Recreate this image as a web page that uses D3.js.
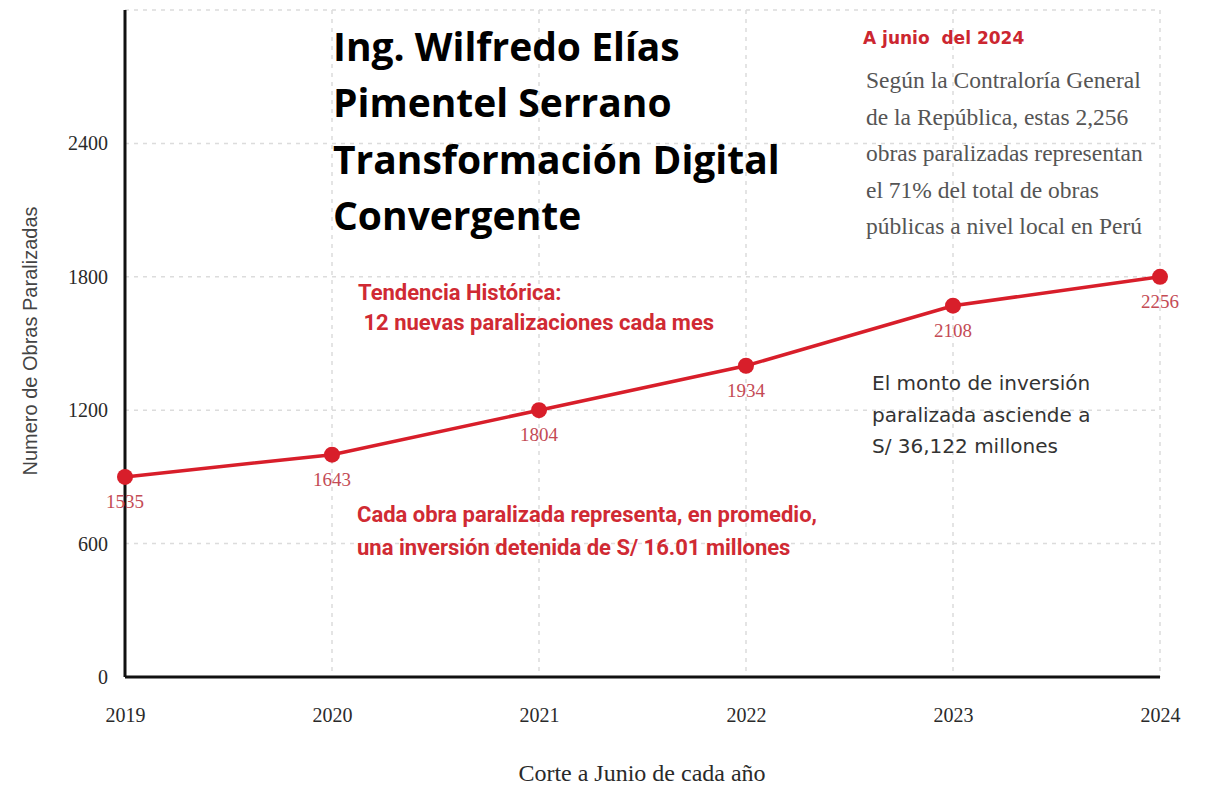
<!DOCTYPE html>
<html>
<head>
<meta charset="utf-8">
<script src="https://cdn.jsdelivr.net/npm/d3@7"></script>
<style>
  body { margin: 0; background: #fff; }
  svg { display: block; }
</style>
</head>
<body>
<div id="chart"></div>
<script>
// data
const years = ["2019", "2020", "2021", "2022", "2023", "2024"];
const plotted = [900, 1000, 1200, 1400, 1670, 1800];
const pointLabels = ["1535", "1643", "1804", "1934", "2108", "2256"];
const yTicks = [0, 600, 1200, 1800, 2400];
const yGrid = [600, 1200, 1800, 2400, 3000];

const titleLines = ["Ing. Wilfredo Elías", "Pimentel Serrano", "Transformación Digital", "Convergente"];
const noteHead = "A junio  del 2024";
const noteLines = ["Según la Contraloría General", "de la República, estas 2,256", "obras paralizadas representan", "el 71% del total de obras", "públicas a nivel local en Perú"];
const trendLines = ["Tendencia Histórica:", " 12 nuevas paralizaciones cada mes"];
const avgLines = ["Cada obra paralizada representa, en promedio,", "una inversión detenida de S/ 16.01 millones"];
const amountLines = ["El monto de inversión", "paralizada asciende a", "S/ 36,122 millones"];

const fullWidth = 1206, fullHeight = 785;
const margin = { top: 10, right: 46, bottom: 108, left: 125 };
const width = fullWidth - margin.left - margin.right;
const height = fullHeight - margin.top - margin.bottom;

const red = "#d81e2a";
const serif = "'Liberation Serif', 'DejaVu Serif', serif";
const sans = "'DejaVu Sans', sans-serif";
const roboto = "Roboto, 'Liberation Sans', sans-serif";

const svg = d3.select("#chart").append("svg")
    .attr("width", fullWidth)
    .attr("height", fullHeight)
  .append("g")
    .attr("transform", `translate(${margin.left},${margin.top})`);

const x = d3.scalePoint().domain(years).range([0, width]);
const y = d3.scaleLinear().domain([0, 3000]).range([height, 0]);

// grid
svg.append("g").selectAll("line").data(yGrid).join("line")
  .attr("x1", 0).attr("x2", width)
  .attr("y1", d => y(d)).attr("y2", d => y(d))
  .attr("stroke", "#dcdcdc").attr("stroke-width", 1.5)
  .attr("stroke-dasharray", "4,5");

svg.append("g").selectAll("line").data(years.slice(1)).join("line")
  .attr("x1", d => x(d)).attr("x2", d => x(d))
  .attr("y1", 0).attr("y2", height)
  .attr("stroke", "#dcdcdc").attr("stroke-width", 1.5)
  .attr("stroke-dasharray", "4,5");

// axes
const yAxis = svg.append("g")
  .call(d3.axisLeft(y).tickValues(yTicks).tickFormat(d3.format("d")).tickSize(0).tickPadding(17));
yAxis.select(".domain").remove();
yAxis.selectAll("text")
  .style("font-family", serif).style("font-size", "20px").attr("fill", "#2a2a2a");

const xAxis = svg.append("g")
  .attr("transform", `translate(0,${height})`)
  .call(d3.axisBottom(x).tickSize(0).tickPadding(31));
xAxis.select(".domain").remove();
xAxis.selectAll("text")
  .style("font-family", serif).style("font-size", "20px").attr("fill", "#2a2a2a");

svg.append("line")
  .attr("x1", 0).attr("x2", 0).attr("y1", 0).attr("y2", height)
  .attr("stroke", "#111").attr("stroke-width", 3);
svg.append("line")
  .attr("x1", 0).attr("x2", width).attr("y1", height).attr("y2", height)
  .attr("stroke", "#111").attr("stroke-width", 3);

// axis titles
svg.append("text")
  .attr("transform", "rotate(-90)")
  .attr("x", -331).attr("y", -88)
  .attr("text-anchor", "middle")
  .style("font-family", "'Liberation Sans', Arial, sans-serif").style("font-size", "20px").attr("fill", "#444")
  .text("Numero de Obras Paralizadas");

svg.append("text")
  .attr("x", 517).attr("y", 771)
  .attr("text-anchor", "middle")
  .style("font-family", serif).style("font-size", "24px").attr("fill", "#2a2a2a")
  .text("Corte a Junio de cada año");

// line + points
const points = years.map((yr, i) => ({ year: yr, value: plotted[i], label: pointLabels[i] }));

svg.append("path")
  .datum(points)
  .attr("fill", "none")
  .attr("stroke", red)
  .attr("stroke-width", 3.5)
  .attr("d", d3.line().x(d => x(d.year)).y(d => y(d.value)));

svg.selectAll("circle.pt").data(points).join("circle")
  .attr("class", "pt")
  .attr("cx", d => x(d.year)).attr("cy", d => y(d.value))
  .attr("r", 8).attr("fill", red);

svg.selectAll("text.pl").data(points).join("text")
  .attr("class", "pl")
  .attr("x", d => x(d.year)).attr("y", d => y(d.value) + 31)
  .attr("text-anchor", "middle")
  .style("font-family", serif).style("font-size", "19px").attr("fill", "#c44b55")
  .text(d => d.label);

// annotations
function block(lines, x0, y0, step, font, size, weight, color) {
  svg.append("g").selectAll("text").data(lines).join("text")
    .attr("x", x0).attr("y", (d, i) => y0 + i * step)
    .style("font-family", font).style("font-size", size + "px")
    .style("font-weight", weight).style("white-space", "pre")
    .attr("fill", color)
    .text(d => d);
}

block(titleLines, 208, 51, 56.3, "'Open Sans', 'Liberation Sans', sans-serif", 39, "bold", "#000");
block([noteHead], 738, 34, 0, sans, 17, "bold", "#cc2630");
block(noteLines, 741, 78, 36.5, serif, 23.5, "normal", "#555");
block(trendLines, 233, 290, 30, roboto, 22, "bold", "#d02a33");
block(avgLines, 232, 512, 33, roboto, 22, "bold", "#d02a33");
block(amountLines, 747, 380, 31.5, sans, 20, "normal", "#333");
</script>
</body>
</html>
